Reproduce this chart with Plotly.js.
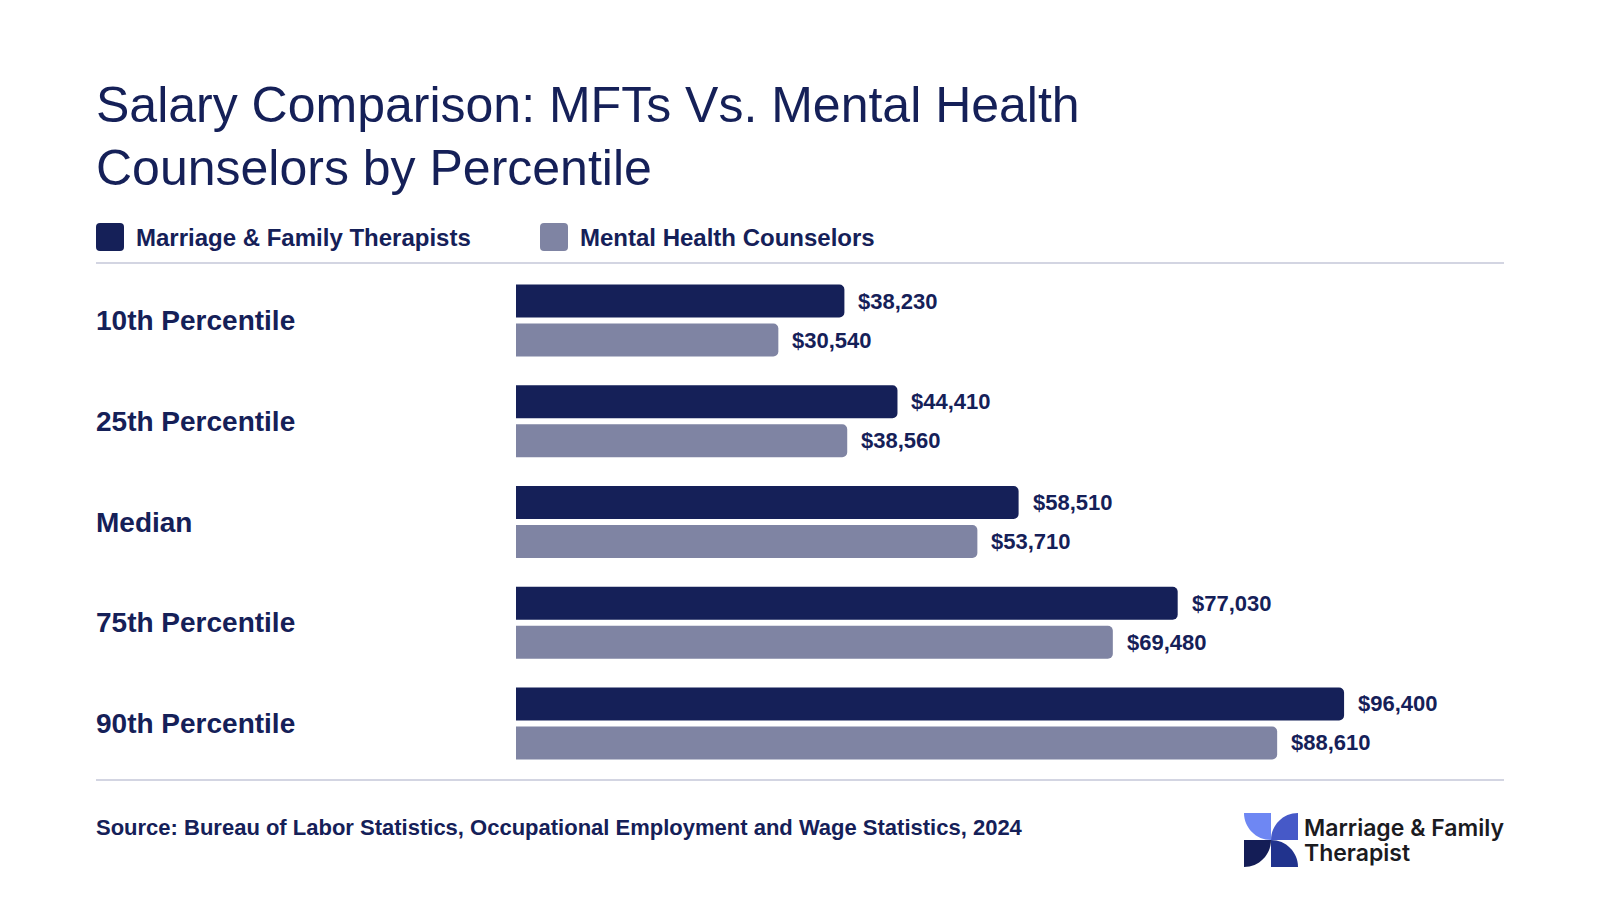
<!DOCTYPE html>
<html>
<head>
<meta charset="utf-8">
<script src="https://cdn.plot.ly/plotly-3.0.1.min.js"></script>
<style>html,body{margin:0;padding:0;background:#fff;}#chart{width:1600px;height:900px;}</style>
</head>
<body>
<div id="chart"></div>
<script>
// ---- Data ----
const categories = ["10th Percentile", "25th Percentile", "Median", "75th Percentile", "90th Percentile"];
const mftValues = [38230, 44410, 58510, 77030, 96400];
const mhcValues = [30540, 38560, 53710, 69480, 88610];
const seriesNames = ["Marriage & Family Therapists", "Mental Health Counselors"];
const titleLines = ["Salary Comparison: MFTs Vs. Mental Health", "Counselors by Percentile"];
const sourceText = "Source: Bureau of Labor Statistics, Occupational Employment and Wage Statistics, 2024";
const logoLines = ["Marriage & Family", "Therapist"];

// ---- Style ----
const NAVY = "#152058";
const GREY = "#7f84a3";
const FONT = "Liberation Sans, Arial, Helvetica, sans-serif";
const L = 516, R = 1375, T = 263, B = 780;
const px = p => (p - L) / (R - L);
const py = p => (B - p) / (B - T);

const fmt = v => "$" + v.toLocaleString("en-US");

const traces = [
  {
    type: "bar", orientation: "h", name: seriesNames[0],
    y: categories, x: mftValues,
    offset: -0.357, width: 0.327,
    marker: {color: NAVY, cornerradius: 5},
    hoverinfo: "x+y", showlegend: false
  },
  {
    type: "bar", orientation: "h", name: seriesNames[1],
    y: categories, x: mhcValues,
    offset: 0.03, width: 0.327,
    marker: {color: GREY, cornerradius: 5},
    hoverinfo: "x+y", showlegend: false
  }
];

const annotations = [];
// title
titleLines.forEach((t, i) => {
  annotations.push({
    text: t, xref: "paper", yref: "paper", x: px(94), y: py(105 + i * 63),
    xanchor: "left", yanchor: "middle", showarrow: false,
    font: {family: FONT, size: 50, color: NAVY}
  });
});
// category labels
categories.forEach(c => {
  annotations.push({
    text: "<b>" + c + "</b>", xref: "paper", yref: "y", x: px(94), y: c,
    xanchor: "left", yanchor: "middle", showarrow: false,
    font: {family: FONT, size: 28, color: NAVY}
  });
});
// value labels
const valueSets = [[mftValues, 19.5], [mhcValues, -19.5]];
valueSets.forEach(([vals, ys]) => {
  vals.forEach((v, i) => {
    annotations.push({
      text: "<b>" + fmt(v) + "</b>", xref: "x", yref: "y", x: v, y: categories[i],
      xanchor: "left", yanchor: "middle", xshift: 12, yshift: ys, showarrow: false,
      font: {family: FONT, size: 22, color: NAVY}
    });
  });
});
// legend labels
[[seriesNames[0], 134], [seriesNames[1], 578]].forEach(([t, x]) => {
  annotations.push({
    text: "<b>" + t + "</b>", xref: "paper", yref: "paper", x: px(x), y: py(237),
    xanchor: "left", yanchor: "middle", showarrow: false,
    font: {family: FONT, size: 24, color: NAVY}
  });
});
// source
annotations.push({
  text: "<b>" + sourceText + "</b>", xref: "paper", yref: "paper", x: px(94), y: py(827),
  xanchor: "left", yanchor: "middle", showarrow: false,
  font: {family: FONT, size: 22, color: NAVY}
});
// logo text
logoLines.forEach((t, i) => {
  annotations.push({
    text: t, xref: "paper", yref: "paper", x: px(1302), y: py(828 + i * 25),
    xanchor: "left", yanchor: "middle", showarrow: false,
    font: {family: "Inter, Liberation Sans, sans-serif", size: 23, color: "#1b1b1f", weight: 600}
  });
});

// ---- shapes ----
const shapes = [];
// separator lines
[T, B].forEach(yy => {
  shapes.push({type: "line", xref: "paper", yref: "paper", x0: px(96), x1: px(1504), y0: py(yy), y1: py(yy),
    line: {color: "#d3d5e2", width: 2}, layer: "below"});
});
// rounded rect helper (pixel coords -> paper)
function roundRect(x0, y0, x1, y1, r) {
  const P = (x, y) => px(x) + "," + py(y);
  return "M" + P(x0 + r, y0) + " L" + P(x1 - r, y0) + " Q" + P(x1, y0) + " " + P(x1, y0 + r) +
    " L" + P(x1, y1 - r) + " Q" + P(x1, y1) + " " + P(x1 - r, y1) +
    " L" + P(x0 + r, y1) + " Q" + P(x0, y1) + " " + P(x0, y1 - r) +
    " L" + P(x0, y0 + r) + " Q" + P(x0, y0) + " " + P(x0 + r, y0) + " Z";
}
shapes.push({type: "path", xref: "paper", yref: "paper", path: roundRect(96, 223, 124, 251, 4), fillcolor: NAVY, line: {width: 0}});
shapes.push({type: "path", xref: "paper", yref: "paper", path: roundRect(540, 223, 568, 251, 4), fillcolor: GREY, line: {width: 0}});

// logo quarter circles
function quarter(ox, oy, r, a1, a2) {
  const k = 0.5523, rad = Math.PI / 180;
  const s = Math.sign(a2 - a1);
  const p = a => [ox + r * Math.cos(a * rad), oy + r * Math.sin(a * rad)];
  const t = a => [-Math.sin(a * rad) * s, Math.cos(a * rad) * s];
  const p1 = p(a1), p2 = p(a2), t1 = t(a1), t2 = t(a2);
  const c1 = [p1[0] + k * r * t1[0], p1[1] + k * r * t1[1]];
  const c2 = [p2[0] - k * r * t2[0], p2[1] - k * r * t2[1]];
  const P = q => px(q[0]) + "," + py(q[1]);
  return "M" + P([ox, oy]) + " L" + P(p1) + " C" + P(c1) + " " + P(c2) + " " + P(p2) + " Z";
}
const lx = 1244, ly = 813, ls = 54, lr = ls / 2;
const cx = lx + lr, cy = ly + lr, rx = lx + ls, by = ly + ls;
[
  [quarter(cx, ly, lr, 180, 90), "#6e87f3"],
  [quarter(rx, cy, lr, 180, 270), "#4659c8"],
  [quarter(cx, by, lr, 0, -90), "#21338d"],
  [quarter(lx, cy, lr, 0, 90), "#141d56"]
].forEach(([path, col]) => {
  shapes.push({type: "path", xref: "paper", yref: "paper", path: path, fillcolor: col, line: {width: 0}});
});

const layout = {
  width: 1600, height: 900,
  paper_bgcolor: "#ffffff", plot_bgcolor: "#ffffff",
  margin: {l: L, r: 1600 - R, t: T, b: 900 - B, pad: 0},
  barmode: "overlay",
  showlegend: false,
  xaxis: {range: [0, 100000], showgrid: false, zeroline: false, showticklabels: false, ticks: "", fixedrange: true},
  yaxis: {type: "category", categoryorder: "array", categoryarray: categories,
    range: [4.561, -0.571], showgrid: false, zeroline: false, showticklabels: false, ticks: "", fixedrange: true},
  annotations: annotations,
  shapes: shapes,
  font: {family: FONT, color: NAVY}
};

Plotly.newPlot("chart", traces, layout, {displayModeBar: false, staticPlot: true});
</script>
</body>
</html>
